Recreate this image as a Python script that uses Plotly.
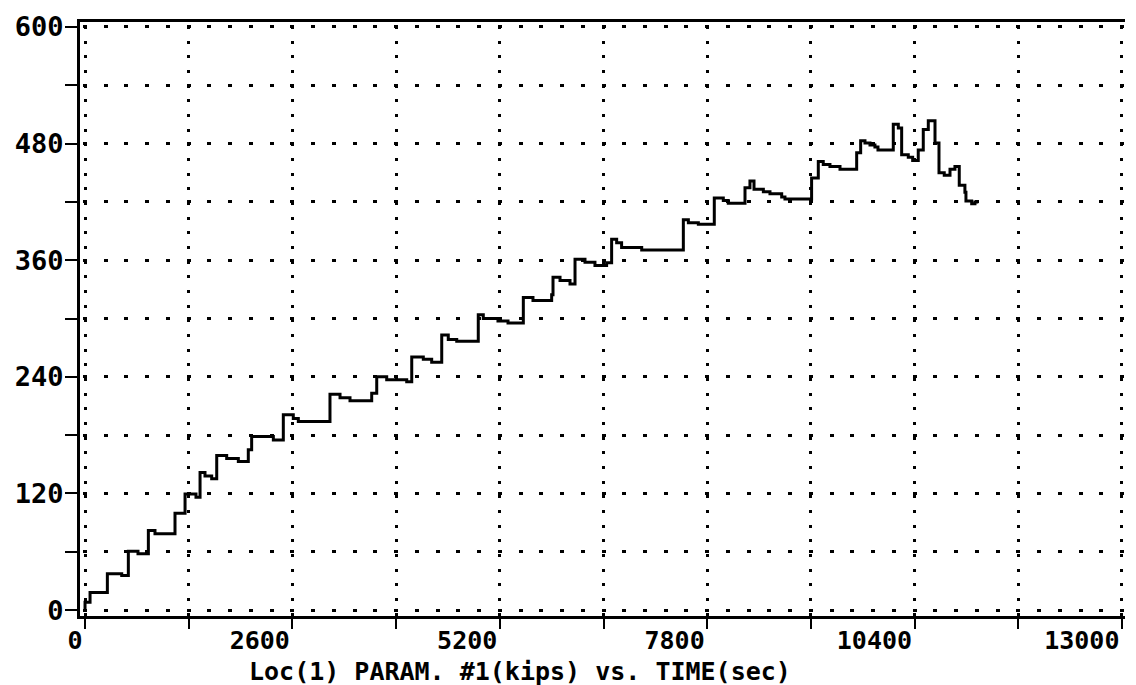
import plotly.graph_objects as go

# Step data (time in s, load in kips)
time_sec = [0, 0, 63, 280, 460, 543, 664, 794, 877, 1128, 1254, 1391, 1442, 1504,
            1588, 1651, 1776, 1922, 2047, 2089, 2361, 2486, 2611, 2674, 3071, 3197,
            3322, 3594, 3657, 3782, 4033, 4096, 4241, 4346, 4472, 4554, 4660, 4930,
            4993, 5177, 5303, 5495, 5616, 5850, 5867, 5955, 6080, 6143, 6268, 6393,
            6539, 6602, 6665, 6727, 6979, 7501, 7564, 7689, 7889, 8002, 8064, 8274,
            8336, 8387, 8504, 8587, 8734, 8775, 9109, 9193, 9255, 9339, 9465, 9674,
            9724, 9778, 9841, 9903, 9941, 10133, 10196, 10238, 10321, 10376, 10446,
            10509, 10572, 10656, 10706, 10772, 10844, 10906, 10960, 11031, 11044,
            11116, 11157, 11199]
load_kips = [0, 8, 18, 37.5, 35.5, 60.5, 58, 82, 78.5, 99.5, 119.5, 116, 141.5, 138,
             135, 159, 156, 153, 165, 178.5, 175, 201, 197, 194, 222, 218.5,
             215.5, 223, 240, 237, 235, 260.5, 258, 255, 283, 278.5, 276.5, 304,
             300, 297.5, 295.5, 321.5, 318.5, 324.5, 342.5, 339, 335.5, 361, 358, 354.5,
             357.5, 381.5, 378, 373, 370.5, 401.5, 398.5, 397, 424, 421.5, 418.5, 434.5,
             441.5, 433, 430.5, 428.5, 425, 423, 444.5, 461.5, 458.5, 456.5, 453.5, 470.5,
             483, 480.5, 478.5, 476.5, 473.5, 500, 496, 468.5, 466, 462.5, 473.5,
             494.5, 503.5, 480.5, 450, 447.5, 453.5, 456.5, 437, 430, 421,
             418, 420, 420]

x_ticks = [0, 2600, 5200, 7800, 10400, 13000]
x_ticklabels = ["0", "2600", "5200", "7800", "10400", "13000"]
y_ticks = [0, 120, 240, 360, 480, 600]
y_ticklabels = ["0", "120", "240", "360", "480", "600"]
title_text = "Loc(1) PARAM. #1(kips) vs. TIME(sec)"

FONT = dict(family="DejaVu Sans Mono", size=25, color="black", weight="bold")
YFONT = dict(family="DejaVu Sans Mono", size=27, color="black", weight="bold")

fig = go.Figure()
fig.add_trace(go.Scatter(
    x=time_sec, y=load_kips, mode="lines",
    line=dict(color="black", width=3, shape="hv"),
    showlegend=False, hoverinfo="skip",
))

fig.update_layout(
    width=1136, height=685,
    margin=dict(l=80, r=11, t=18, b=69),
    paper_bgcolor="white", plot_bgcolor="white",
    font=FONT,
    xaxis=dict(
        range=[-63, 13038],
        tickmode="array", tickvals=x_ticks, ticktext=x_ticklabels,
        ticks="outside", ticklen=8, tickwidth=2, tickcolor="black",
        ticklabelposition="outside left",
        tickfont=FONT,
        showline=True, linewidth=3, linecolor="black", mirror=True,
        showgrid=True, gridcolor="black", gridwidth=3,
        griddash="0px,4px,3px,7.67px",
        zeroline=False,
        minor=dict(dtick=1300, tick0=0, ticks="outside", ticklen=10, tickwidth=2,
                   tickcolor="black", showgrid=True, gridcolor="black", gridwidth=3,
                   griddash="0px,4px,3px,7.67px"),
    ),
    yaxis=dict(
        range=[-6.1, 605.1],
        tickmode="array", tickvals=y_ticks, ticktext=y_ticklabels,
        ticks="outside", ticklen=8, tickwidth=2, tickcolor="black",
        tickfont=YFONT,
        showline=True, linewidth=3, linecolor="black", mirror=False,
        showgrid=True, gridcolor="black", gridwidth=3,
        griddash="0px,3px,4px,13.74px",
        zeroline=False,
        minor=dict(dtick=60, tick0=0, ticks="outside", ticklen=12, tickwidth=2,
                   tickcolor="black", showgrid=True, gridcolor="black", gridwidth=3,
                   griddash="0px,3px,4px,13.74px"),
    ),
    annotations=[dict(
        text=title_text, xref="paper", yref="paper",
        x=(520 - 80) / 1045, y=-(56 / 598), xanchor="center", yanchor="middle",
        showarrow=False, font=FONT,
    )],
)

fig.write_html("out.html")
